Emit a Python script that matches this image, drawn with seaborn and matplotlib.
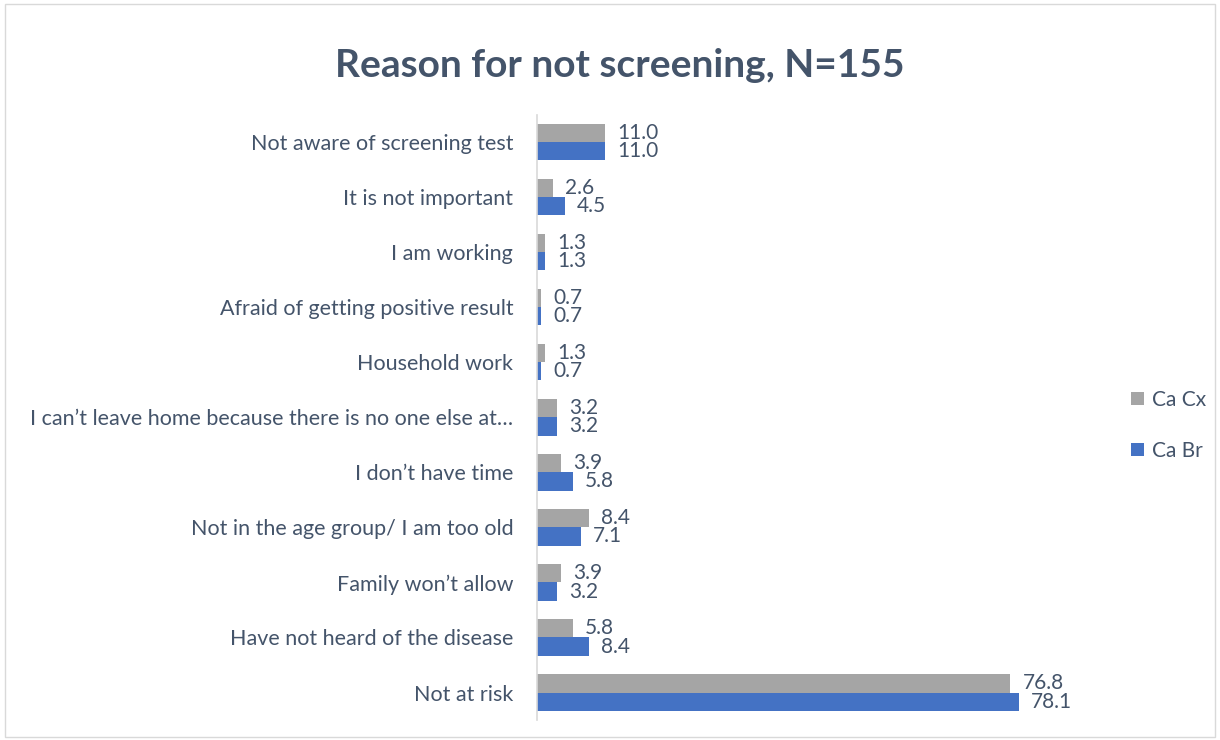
import pandas as pd
import seaborn as sns
import matplotlib.pyplot as plt
from matplotlib.patches import Rectangle

# data (top to bottom, as in the chart)
reasons = [
    "Not aware of screening test",
    "It is not important",
    "I am working",
    "Afraid of getting positive result",
    "Household work",
    "I can\u2019t leave home because there is no one else at\u2026",
    "I don\u2019t have time",
    "Not in the age group/ I am too old",
    "Family won\u2019t allow",
    "Have not heard of the disease",
    "Not at risk",
]
ca_cx = [11.0, 2.6, 1.3, 0.7, 1.3, 3.2, 3.9, 8.4, 3.9, 5.8, 76.8]
ca_br = [11.0, 4.5, 1.3, 0.7, 0.7, 3.2, 5.8, 7.1, 3.2, 8.4, 78.1]
series = ["Ca Cx", "Ca Br"]

df = pd.DataFrame({
    "reason": reasons * 2,
    "value": ca_cx + ca_br,
    "series": [series[0]] * len(reasons) + [series[1]] * len(reasons),
})

sns.set_style("white")
plt.rcParams["font.family"] = ["Lato", "DejaVu Sans"]
text_col = "#44546a"

fig = plt.figure(figsize=(12.2, 7.4), dpi=100)
ax = fig.add_axes([0.44, 0.027, 0.455, 0.818])

sns.barplot(data=df, y="reason", x="value", hue="series", hue_order=series,
            order=reasons, orient="h", palette=["#a5a5a5", "#4472c4"],
            width=0.66, ax=ax, errorbar=None, saturation=1, linewidth=0)

for cont in ax.containers:
    ax.bar_label(cont, fmt="%.1f", padding=9, fontsize=15, color=text_col)

ax.set_xlim(0, 90)
ax.set_xticks([])
ax.set_xlabel("")
ax.set_ylabel("")
ax.tick_params(axis="y", length=0, pad=17, labelsize=15.5, labelcolor=text_col)
for s in ["top", "right", "bottom"]:
    ax.spines[s].set_visible(False)
ax.spines["left"].set_color("#d9d9d9")
ax.spines["left"].set_linewidth(1.2)

leg = ax.legend(loc="center left", bbox_to_anchor=(0.912, 0.425),
                bbox_transform=fig.transFigure, frameon=False, fontsize=15,
                handlelength=0.6, handleheight=0.6, handletextpad=0.4,
                labelspacing=1.5)
for t in leg.get_texts():
    t.set_color(text_col)

fig.suptitle("Reason for not screening, N=155", x=0.508, y=0.935,
             fontsize=28, fontweight="bold", color=text_col)

fig.patches.append(Rectangle((0.004, 0.004), 0.992, 0.99, transform=fig.transFigure,
                             fill=False, edgecolor="#d9d9d9", linewidth=1))

fig.savefig("out.png", dpi=100)
